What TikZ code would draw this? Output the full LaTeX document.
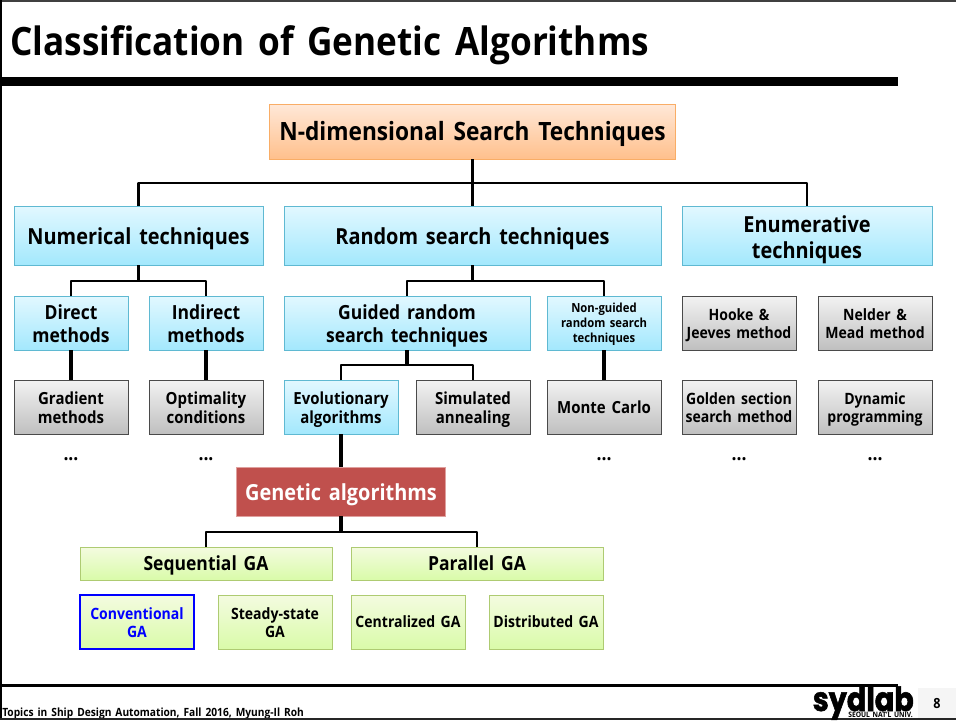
\documentclass[tikz,border=0pt]{standalone}
\usepackage{fontspec}
\setmainfont{Open Sans}[WordSpace=1.5, FakeStretch=0.9]
\newfontfamily\logofont{Poppins}[FakeStretch=0.86, FakeBold=1.6]
\usepackage{xcolor}
\usetikzlibrary{positioning}
\definecolor{blueedge}{HTML}{5FB9D2}
\definecolor{blueup}{HTML}{E2F8FF}
\definecolor{bluedown}{HTML}{A3E8FD}
\definecolor{greenedge}{HTML}{AECB72}
\definecolor{greenup}{HTML}{F4FBE0}
\definecolor{greendown}{HTML}{D9FBA9}
\definecolor{orangeedge}{HTML}{F9AD66}
\definecolor{orangeup}{HTML}{FFE8D8}
\definecolor{orangedown}{HTML}{FFC08C}
\definecolor{redfill}{HTML}{C0504D}
\definecolor{rededge}{HTML}{DFA09E}
\definecolor{grayedge}{HTML}{4A4A4A}
\newcommand{\sizeL}{\fontsize{16.6}{19.5}\selectfont\bfseries}
\newcommand{\sizeM}{\fontsize{14.6}{17.25}\selectfont\bfseries}
\newcommand{\sizeS}{\fontsize{12.5}{14.25}\selectfont\bfseries}
\newcommand{\sizeR}{\fontsize{11.7}{13.5}\selectfont\bfseries}
\newcommand{\sizeT}{\fontsize{9.4}{11.2}\selectfont\bfseries}

\begin{document}
\begin{tikzpicture}[
    x=0.75pt, y=-0.75pt,
    box/.style={rectangle, draw, line width=0.7pt, inner sep=0pt, outer sep=0pt, align=center, minimum height=40.5pt, minimum width=85.5pt},
    bluebox/.style={box, draw=blueedge, top color=blueup, bottom color=bluedown},
    graybox/.style={box, draw=grayedge, top color=gray!10, bottom color=gray!50, font=\sizeS},
    greenbox/.style={box, draw=greenedge, top color=greenup, bottom color=greendown, font=\sizeR},
    drop/.style={text height=#1, text depth=0pt},
    stem/.style={line width=3pt},
    busstem/.style={line width=2.5pt},
    branch/.style={line width=2.2pt, line join=round},
    dotlabel/.style={font=\sizeM, inner sep=0pt}
]
    % Page frame
    \useasboundingbox (0,0) rectangle (956,724);
    \fill[black!75] (0,0) rectangle (956,2);
    \fill (0,0) rectangle (2,719);
    \fill (0,77) rectangle (898,86);
    \fill (0,684) rectangle (898,686.5);
    \node[anchor=west, inner sep=0pt, font=\fontsize{29.3}{32}\selectfont\bfseries] (title) at (10,45) {Classification of Genetic Algorithms};

    % Top level
    \node[box, draw=orangeedge, top color=orangeup, bottom color=orangedown, minimum width=304.5pt, minimum height=41.25pt, font=\fontsize{18.9}{22}\selectfont\bfseries, drop=13.2pt] (root) at (472.5,131.5) {N-dimensional Search Techniques};

    % Technique families
    \node[bluebox, minimum width=186.75pt, minimum height=44.25pt, font=\sizeL, drop=13.2pt] (num) at (138.5,235.5) {Numerical techniques};
    \node[bluebox, minimum width=282.75pt, minimum height=44.25pt, font=\sizeL, drop=13.2pt, right=15.75pt of num] (rand) {Random search techniques};
    \node[bluebox, minimum width=187.5pt, minimum height=44.25pt, font=\sizeL, drop=34.5pt, right=15.75pt of rand] (enum) {Enumerative\\techniques};

    % Second row
    \node[bluebox, font=\sizeM, drop=29.5pt, below=23.25pt of num.south west, anchor=north west] (direct) {Direct\\methods};
    \node[bluebox, font=\sizeM, drop=29.5pt, below=23.25pt of num.south east, anchor=north east] (indirect) {Indirect\\methods};
    \node[bluebox, font=\sizeM, drop=29.5pt, minimum width=184.5pt, below=23.25pt of rand.south west, anchor=north west] (guided) {Guided random\\search techniques};
    \node[bluebox, font=\sizeT, drop=29.5pt, below=23.25pt of rand.south east, anchor=north east] (nonguided) {Non-guided\\random search\\techniques};
    \node[graybox, font=\sizeR, drop=23pt, below=23.25pt of enum.south west, anchor=north west] (hooke) {Hooke \&\\Jeeves method};
    \node[graybox, font=\sizeR, drop=23pt, below=23.25pt of enum.south east, anchor=north east] (nelder) {Nelder \&\\Mead method};

    % Third row
    \node[graybox, drop=25pt, below=22.5pt of direct] (gradient) {Gradient\\methods};
    \node[graybox, drop=25pt, below=22.5pt of indirect] (optimal) {Optimality\\conditions};
    \node[bluebox, font=\sizeS, drop=25pt, below=22.5pt of guided.south west, anchor=north west] (evol) {Evolutionary\\algorithms};
    \node[graybox, drop=25pt, below=22.5pt of guided.south east, anchor=north east] (anneal) {Simulated\\annealing};
    \node[graybox, drop=10.2pt, below=22.5pt of nonguided] (monte) {Monte Carlo};
    \node[graybox, font=\sizeR, drop=23pt, below=22.5pt of hooke] (golden) {Golden section\\search method};
    \node[graybox, font=\sizeR, drop=23pt, below=22.5pt of nelder] (dynamic) {Dynamic\\programming};

    % Continuation marks
    \node[dotlabel, below=17.5pt of gradient] (dotsa) {...};
    \node[dotlabel, below=17.5pt of optimal] (dotsb) {...};
    \node[dotlabel, below=17.5pt of monte] (dotsc) {...};
    \node[dotlabel, below=17.5pt of golden] (dotsd) {...};
    \node[dotlabel, below=17.5pt of dynamic] (dotse) {...};

    % Genetic algorithms
    \node[box, draw=rededge, fill=redfill, text=white, minimum width=156.75pt, minimum height=36.75pt, font=\fontsize{16.6}{19}\selectfont\bfseries, drop=13.2pt, below=24.75pt of evol] (genetic) {Genetic algorithms};
    \node[greenbox, font=\sizeM, drop=10.2pt, minimum width=189pt, minimum height=24.75pt] (seq) at (206,563.5) {Sequential GA};
    \node[greenbox, font=\sizeM, drop=10.2pt, minimum width=189pt, minimum height=24.75pt, right=14.25pt of seq] (par) {Parallel GA};
    \node[greenbox, draw=blue, line width=1.5pt, text=blue, drop=23pt, below=11.25pt of seq.south west, anchor=north west] (conv) {Conventional\\GA};
    \node[greenbox, drop=23pt, below=11.25pt of seq.south east, anchor=north east] (steady) {Steady-state\\GA};
    \node[greenbox, drop=8.7pt, below=11.25pt of par.south west, anchor=north west] (central) {Centralized GA};
    \node[greenbox, drop=8.7pt, below=11.25pt of par.south east, anchor=north east] (distrib) {Distributed GA};

    % Bus points
    \coordinate (rootbus) at (root.south |- 0,183);
    \coordinate (numbus) at (num.south |- 0,281);
    \coordinate (randbus) at (rand.south |- 0,281);
    \coordinate (guidedbus) at (guided.south |- 0,365);
    \coordinate (genbus) at (genetic.south |- 0,532);

    % Connectors
    \draw[busstem] (root) -- (rand);
    \draw[branch] (num.north) |- (rootbus) -| (enum.north);
    \draw[busstem] (num) -- (numbus);
    \draw[branch] (direct.north) |- (numbus) -| (indirect.north);
    \draw[busstem] (rand) -- (randbus);
    \draw[branch] (guided.north) |- (randbus) -| (nonguided.north);
    \draw[busstem] (guided) -- (guidedbus);
    \draw[branch] (evol.north) |- (guidedbus) -| (anneal.north);
    \draw[stem] (direct) -- (gradient);
    \draw[stem] (indirect) -- (optimal);
    \draw[stem] (nonguided) -- (monte);
    \draw[stem] (evol) -- (genetic);
    \draw[busstem] (genetic) -- (genbus);
    \draw[branch] (seq.north) |- (genbus) -| (par.north);

    % Footer
    \node[anchor=base west, inner sep=0pt, font=\fontsize{8.5}{10}\selectfont\bfseries] (footer) at (2,716.5) {Topics in Ship Design Automation, Fall 2016, Myung-Il Roh};
    \fill[black!85] (0,717.5) rectangle (956,720);
    \fill[white] (0,720) rectangle (956,724);
    \node[anchor=base east, inner sep=0pt, font=\logofont\fontsize{25}{25}\selectfont\bfseries] (logo) at (914,711) {sydlab};
    \node[anchor=base east, inner sep=0pt, font=\fontsize{5.6}{6}\selectfont\bfseries] (univ) at (913,717.5) {SEOUL NAT'L UNIV.};
    \node[rectangle, fill=gray!8, minimum width=28.5pt, minimum height=22.5pt, inner sep=0pt, font=\fontsize{10.5}{12}\selectfont\bfseries] (page) at (937,703) {8};
\end{tikzpicture}
\end{document}
